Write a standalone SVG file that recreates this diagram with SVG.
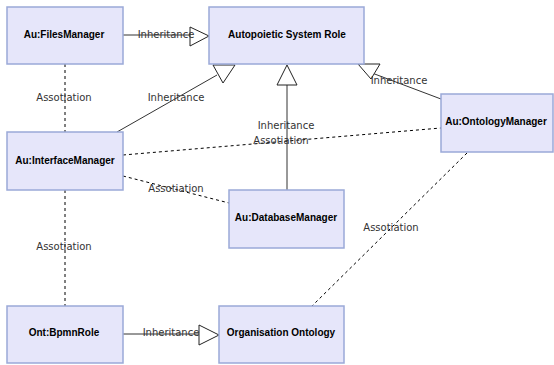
<svg xmlns="http://www.w3.org/2000/svg" width="554" height="365" viewBox="0 0 554 365">
<style>
.node rect{fill:#e6e6fa;stroke:#9aa9d8;stroke-width:1.5}
.node text{font-family:"Liberation Sans",Arial,sans-serif;font-weight:bold;font-size:10px;fill:#000;text-anchor:middle}
.solid{stroke:#333;stroke-width:1;fill:none}
.dash{stroke:#000;stroke-width:1;fill:none;stroke-dasharray:3,3}
.head{fill:#fff;stroke:#222;stroke-width:1}
.lbl{font-family:"DejaVu Sans",Verdana,sans-serif;font-size:10px;fill:#333;text-anchor:middle}
</style>
<rect width="554" height="365" fill="#fff"/>
<g id="connectors">
<line class="solid" x1="123" y1="35" x2="200" y2="35"/>
<line class="dash" x1="65" y1="64" x2="65" y2="132"/>
<line class="solid" x1="117" y1="132" x2="217" y2="75"/>
<line class="solid" x1="287" y1="190" x2="287" y2="85"/>
<line class="solid" x1="441" y1="99" x2="372" y2="73"/>
<line class="dash" x1="123" y1="155" x2="441" y2="128"/>
<line class="dash" x1="123" y1="176" x2="229" y2="203"/>
<line class="dash" x1="65" y1="190" x2="65" y2="306"/>
<line class="dash" x1="467" y1="153" x2="312" y2="306"/>
<line class="solid" x1="123" y1="334" x2="205" y2="334"/>
<polygon class="head" points="190,27 209,36 190,46"/>
<polygon class="head" points="213,65 235,65 223,83"/>
<polygon class="head" points="287,65 277,85 297,85"/>
<polygon class="head" points="358,64 380,64 371,79"/>
<polygon class="head" points="199,325 219,335 199,345"/>
<text class="lbl" x="166" y="38">Inheritance</text>
<text class="lbl" x="64" y="101">Assotiation</text>
<text class="lbl" x="176" y="101">Inheritance</text>
<text class="lbl" x="286" y="129">Inheritance</text>
<text class="lbl" x="281" y="144">Assotiation</text>
<text class="lbl" x="399" y="84">Inheritance</text>
<text class="lbl" x="176" y="192">Assotiation</text>
<text class="lbl" x="64" y="250">Assotiation</text>
<text class="lbl" x="391" y="231">Assotiation</text>
<text class="lbl" x="171" y="336">Inheritance</text>
</g>
<g id="filesManager" class="node"><rect x="7" y="7" width="116" height="57"/><text x="64" y="38">Au:FilesManager</text></g>
<g id="autopoieticSystemRole" class="node"><rect x="209" y="7" width="155" height="57"/><text x="287" y="38">Autopoietic System Role</text></g>
<g id="interfaceManager" class="node"><rect x="7" y="132" width="116" height="58"/><text x="65" y="164">Au:InterfaceManager</text></g>
<g id="databaseManager" class="node"><rect x="229" y="190" width="115" height="58"/><text x="286" y="221">Au:DatabaseManager</text></g>
<g id="ontologyManager" class="node"><rect x="441" y="94" width="112" height="58"/><text x="496" y="125">Au:OntologyManager</text></g>
<g id="bpmnRole" class="node"><rect x="7" y="306" width="116" height="57"/><text x="64" y="336">Ont:BpmnRole</text></g>
<g id="organisationOntology" class="node"><rect x="219" y="306" width="125" height="57"/><text x="281" y="336">Organisation Ontology</text></g>
</svg>
